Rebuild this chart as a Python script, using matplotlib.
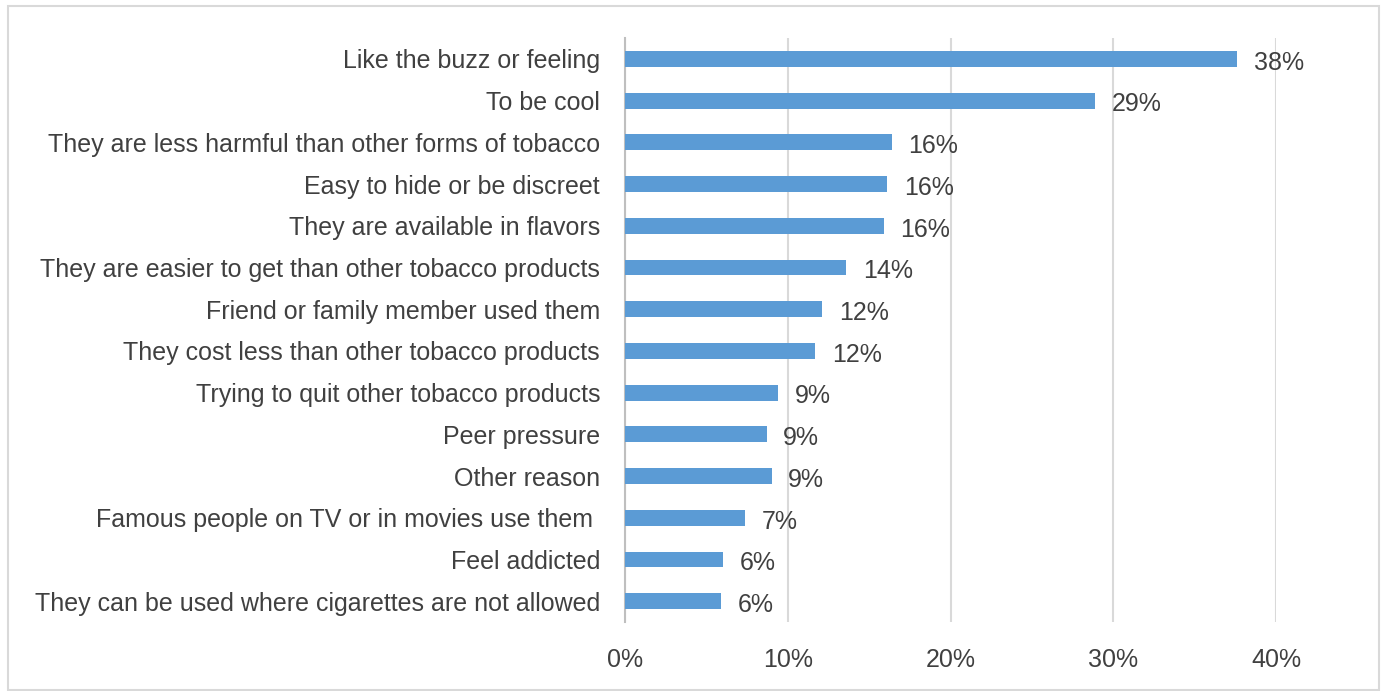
import matplotlib.pyplot as plt
from matplotlib.patches import Rectangle

# ---------- Data ----------
reasons = [
    "Like the buzz or feeling",
    "To be cool",
    "They are less harmful than other forms of tobacco",
    "Easy to hide or be discreet",
    "They are available in flavors",
    "They are easier to get than other tobacco products",
    "Friend or family member used them",
    "They cost less than other tobacco products",
    "Trying to quit other tobacco products",
    "Peer pressure",
    "Other reason",
    "Famous people on TV or in movies use them ",
    "Feel addicted",
    "They can be used where cigarettes are not allowed",
]
percent = [37.6, 28.9, 16.4, 16.1, 15.9, 13.6, 12.1, 11.7, 9.4, 8.7, 9.0, 7.4, 6.0, 5.9]
x_ticks = [0, 10, 20, 30, 40]

# ---------- Style ----------
BAR_COLOR = "#5B9BD5"
TEXT_COLOR = "#404040"
GRID_COLOR = "#D9D9D9"
FS = 18
plt.rcParams["font.family"] = ["Liberation Sans", "DejaVu Sans"]

fig = plt.figure(figsize=(13.85, 6.91), dpi=100)
ax = fig.add_axes([0.4513, 0.0998, 0.4700, 0.8452])

y = list(range(len(reasons)))
ax.barh(y, percent, height=0.38, color=BAR_COLOR, zorder=3)

for yi, v in zip(y, percent):
    ax.annotate(f"{round(v)}%", (v, yi), xytext=(12, -1), textcoords="offset points",
                va="center_baseline", ha="left", fontsize=FS, color=TEXT_COLOR)

ax.set_ylim(len(reasons) - 0.5, -0.5)
ax.set_xlim(0, 40)
ax.set_yticks(y)
ax.set_yticklabels(reasons, fontsize=FS, color=TEXT_COLOR, va="center_baseline")
ax.set_xticks(x_ticks)
ax.set_xticklabels([f"{t}%" for t in x_ticks], fontsize=FS, color=TEXT_COLOR)
ax.tick_params(axis="both", length=0)
ax.tick_params(axis="y", pad=18)
ax.tick_params(axis="x", pad=19)

ax.grid(axis="x", color=GRID_COLOR, linewidth=1.5, zorder=0)
for s in ["top", "right", "bottom"]:
    ax.spines[s].set_visible(False)
ax.spines["left"].set_color("#BFBFBF")
ax.spines["left"].set_linewidth(1.5)

# outer frame
fig.patches.append(Rectangle((0.006, 0.002), 0.99, 0.99, transform=fig.transFigure,
                             fill=False, edgecolor="#D9D9D9", linewidth=1.5))

fig.savefig("out.png", dpi=100)
